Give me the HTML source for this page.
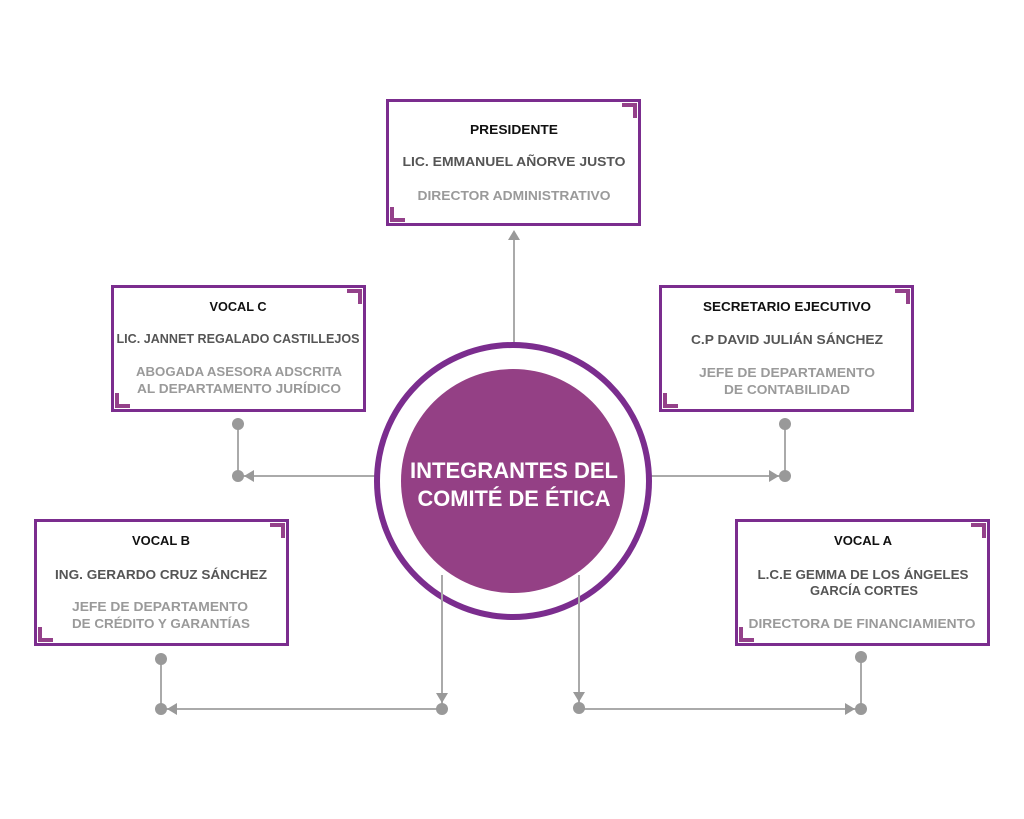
<!DOCTYPE html>
<html><head><meta charset="utf-8"><style>
html,body{margin:0;padding:0;background:#fff;width:1024px;height:819px;overflow:hidden}
svg text{font-family:"Liberation Sans",sans-serif;font-weight:bold;text-anchor:middle}
.t{fill:#111;font-size:13px}
.n{fill:#555;font-size:13px}
.r{fill:#9a9a9a;font-size:13px}
</style></head><body>
<svg width="1024" height="819" xmlns="http://www.w3.org/2000/svg">
<defs>
<g id="bx">
<rect x="1.5" y="1.5" width="252" height="124" fill="#fff" stroke="#7b2d8e" stroke-width="3"/>
<path d="M236 6 H249 V19" fill="none" stroke="#94418a" stroke-width="4"/>
<path d="M6 108 V121 H19" fill="none" stroke="#94418a" stroke-width="4"/>
</g>
</defs>
<g stroke="#aaa" stroke-width="2" fill="none">
<line x1="514" y1="240" x2="514" y2="345"/>
<line x1="238" y1="424" x2="238" y2="476"/>
<line x1="238" y1="476" x2="376" y2="476"/>
<line x1="650" y1="476" x2="785" y2="476"/>
<line x1="785" y1="424" x2="785" y2="476"/>
<line x1="161" y1="709" x2="442" y2="709"/>
<line x1="161" y1="659" x2="161" y2="709"/>
<line x1="579" y1="709" x2="861" y2="709"/>
<line x1="861" y1="657" x2="861" y2="709"/>
</g>
<circle cx="513" cy="481" r="136" fill="#fff" stroke="#7b2d8e" stroke-width="6"/>
<circle cx="513" cy="481" r="112" fill="#944085"/>
<g stroke="#aaa" stroke-width="2" fill="none">
<line x1="442" y1="575" x2="442" y2="709"/>
<line x1="579" y1="575" x2="579" y2="708"/>
</g>
<g fill="#999">
<polygon points="514,230 508,240 520,240"/>
<circle cx="238" cy="424" r="6"/><circle cx="238" cy="476" r="6"/>
<polygon points="244,476 254,470 254,482"/>
<circle cx="785" cy="424" r="6"/><circle cx="785" cy="476" r="6"/>
<polygon points="779,476 769,470 769,482"/>
<circle cx="442" cy="709" r="6"/><polygon points="442,703 436,693 448,693"/>
<circle cx="161" cy="659" r="6"/><circle cx="161" cy="709" r="6"/>
<polygon points="167,709 177,703 177,715"/>
<circle cx="579" cy="708" r="6"/><polygon points="579,702 573,692 585,692"/>
<circle cx="861" cy="657" r="6"/><circle cx="861" cy="709" r="6"/>
<polygon points="855,709 845,703 845,715"/>
</g>
<text x="514" y="478" fill="#fff" style="font-size:22px" textLength="208" lengthAdjust="spacingAndGlyphs">INTEGRANTES DEL</text>
<text x="514" y="506" fill="#fff" style="font-size:22px" textLength="193" lengthAdjust="spacingAndGlyphs">COMITÉ DE ÉTICA</text>

<use href="#bx" x="386" y="99"/>
<text class="t" x="514" y="134" textLength="88" lengthAdjust="spacingAndGlyphs">PRESIDENTE</text>
<text class="n" x="514" y="166" textLength="223" lengthAdjust="spacingAndGlyphs">LIC. EMMANUEL AÑORVE JUSTO</text>
<text class="r" x="514" y="200" textLength="193" lengthAdjust="spacingAndGlyphs">DIRECTOR ADMINISTRATIVO</text>

<use href="#bx" x="111" y="285"/>
<text class="t" x="238" y="311" textLength="57" lengthAdjust="spacingAndGlyphs">VOCAL C</text>
<text class="n" x="238" y="343" textLength="243" lengthAdjust="spacingAndGlyphs">LIC. JANNET  REGALADO CASTILLEJOS</text>
<text class="r" x="239" y="376" textLength="206" lengthAdjust="spacingAndGlyphs">ABOGADA ASESORA ADSCRITA</text>
<text class="r" x="239" y="393" textLength="204" lengthAdjust="spacingAndGlyphs">AL DEPARTAMENTO JURÍDICO</text>

<use href="#bx" x="659" y="285"/>
<text class="t" x="787" y="311" textLength="168" lengthAdjust="spacingAndGlyphs">SECRETARIO EJECUTIVO</text>
<text class="n" x="787" y="344" textLength="192" lengthAdjust="spacingAndGlyphs">C.P DAVID JULIÁN SÁNCHEZ</text>
<text class="r" x="787" y="377" textLength="176" lengthAdjust="spacingAndGlyphs">JEFE DE DEPARTAMENTO</text>
<text class="r" x="787" y="394" textLength="126" lengthAdjust="spacingAndGlyphs">DE CONTABILIDAD</text>

<use href="#bx" x="34" y="519"/>
<text class="t" x="161" y="545" textLength="58" lengthAdjust="spacingAndGlyphs">VOCAL B</text>
<text class="n" x="161" y="579" textLength="212" lengthAdjust="spacingAndGlyphs">ING. GERARDO CRUZ SÁNCHEZ</text>
<text class="r" x="160" y="611" textLength="176" lengthAdjust="spacingAndGlyphs">JEFE DE DEPARTAMENTO</text>
<text class="r" x="161" y="628" textLength="178" lengthAdjust="spacingAndGlyphs">DE CRÉDITO Y GARANTÍAS</text>

<use href="#bx" x="735" y="519"/>
<text class="t" x="863" y="545" textLength="58" lengthAdjust="spacingAndGlyphs">VOCAL A</text>
<text class="n" x="863" y="579" textLength="211" lengthAdjust="spacingAndGlyphs">L.C.E GEMMA DE LOS ÁNGELES</text>
<text class="n" x="864" y="595" textLength="108" lengthAdjust="spacingAndGlyphs">GARCÍA CORTES</text>
<text class="r" x="862" y="628" textLength="227" lengthAdjust="spacingAndGlyphs">DIRECTORA DE FINANCIAMIENTO</text>
</svg>
</body></html>
